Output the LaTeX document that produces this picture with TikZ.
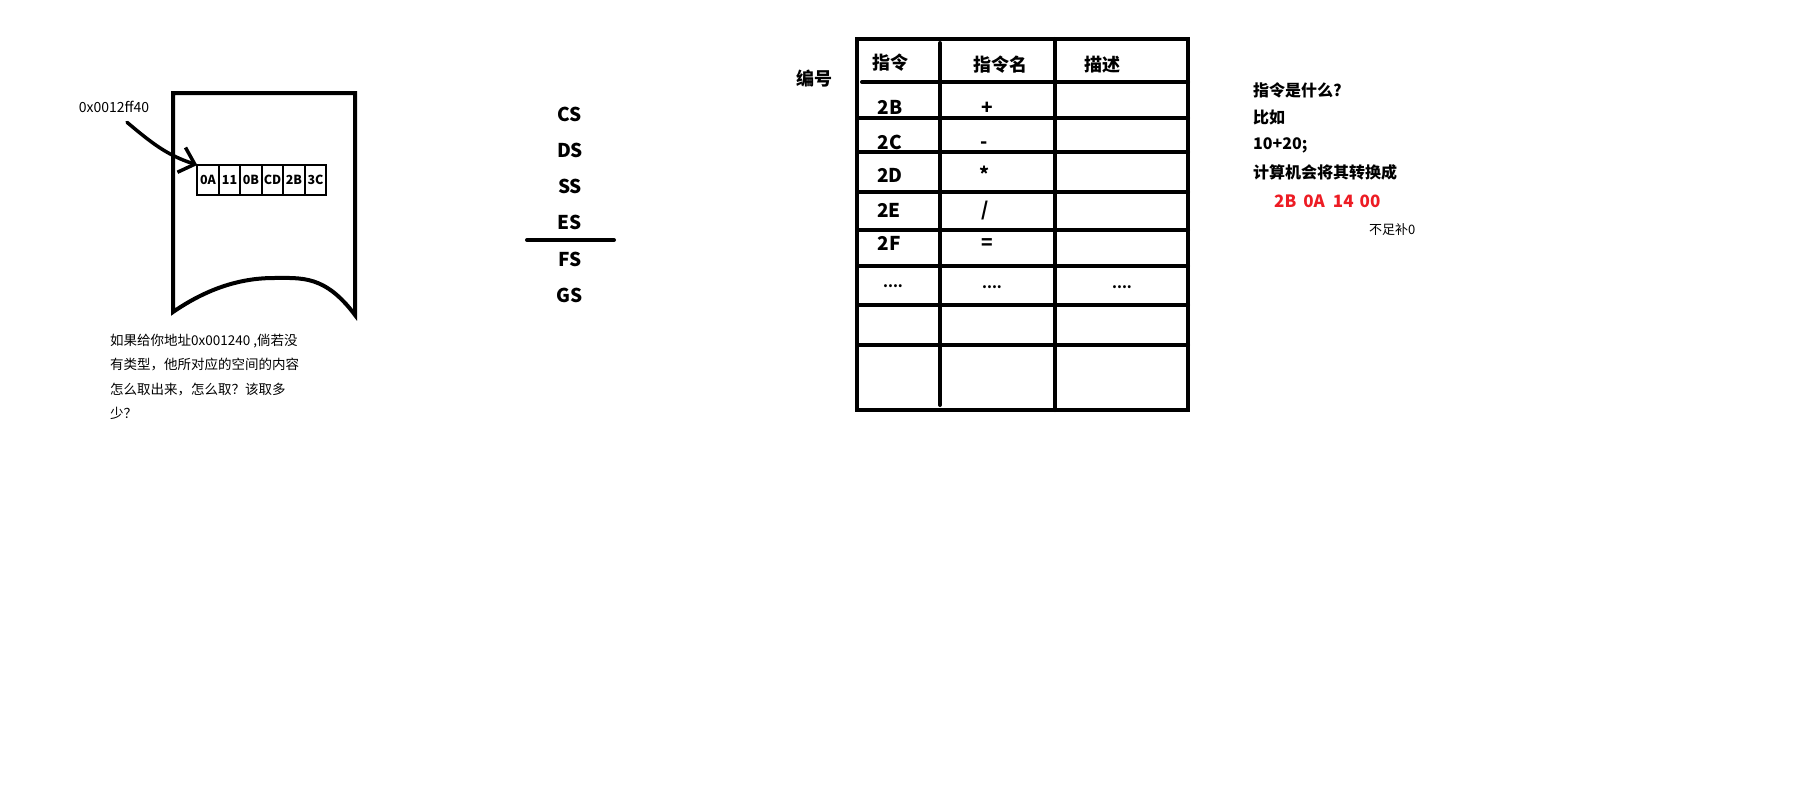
\documentclass[tikz,border=0pt]{standalone}
\usepackage{fontspec}
\setmainfont{Noto Sans CJK SC}
\usetikzlibrary{positioning,arrows.meta}
\definecolor{paintred}{RGB}{237,28,36}
\tikzset{
  thickline/.style={line width=4pt, line cap=round},
  byte/.style={draw, line width=2pt, minimum width=21.5pt, minimum height=30pt, inner sep=0pt, outer sep=0pt, font=\bfseries\fontsize{12.5}{14}\selectfont},
  seg/.style={font=\bfseries\fontsize{19}{22}\selectfont},
  cell/.style={font=\bfseries\fontsize{19}{22}\selectfont},
  dots/.style={font=\bfseries\fontsize{14}{16}\selectfont},
  head/.style={font=\bfseries\fontsize{18}{22}\selectfont},
  note/.style={anchor=west, inner sep=0pt, font=\bfseries\fontsize{16}{20}\selectfont},
}

\begin{document}
\begin{tikzpicture}[x=1pt,y=1pt]
    \useasboundingbox (0,0) rectangle (1799,-800);

    % memory block
    \draw[thickline, line join=miter] (173,-93) -- (355,-93) -- (355,-315)
        .. controls (325,-275) and (302,-278) .. (274,-278)
        .. controls (238,-278) and (205,-290) .. (173,-312) -- cycle;

    \node[byte] (b1) at (208,-180) {0A};
    \node[byte, right=0pt of b1] (b2) {11};
    \node[byte, right=0pt of b2] (b3) {0B};
    \node[byte, right=0pt of b3] (b4) {CD};
    \node[byte, right=0pt of b4] (b5) {2B};
    \node[byte, right=0pt of b5] (b6) {3C};

    \node[font=\fontsize{14}{16}\selectfont] (addr) at (114,-107) {0x0012ff40};
    \draw[line width=3.5pt, line cap=round, -{Straight Barb[length=14pt,width=26pt]}]
        ([xshift=13pt,yshift=-6pt]addr.south) to[out=-40,in=162] (b1.north west);

    \node[anchor=north west, align=left, inner sep=0pt, font=\fontsize{13.5}{24.3}\selectfont] (question) at (110,-334)
        {如果给你地址0x001240 ,倘若没\\有类型，他所对应的空间的内容\\怎么取出来，怎么取？该取多\\少？};

    % segment registers
    \node[seg] (cs) at (570,-114) {CS};
    \node[seg] (ds) at (570,-150) {DS};
    \node[seg] (ss) at (570,-186) {SS};
    \node[seg] (es) at (570,-222) {ES};
    \node[seg] (fs) at (570,-259) {FS};
    \node[seg] (gs) at (570,-295) {GS};
    \draw[thickline] (527,-240) -- (614,-240);

    % instruction table
    \draw[thickline] (857,-39) rectangle (1188,-410);
    \draw[thickline] (940,-43) -- (940,-405);
    \draw[thickline] (1055,-39) -- (1055,-410);
    \draw[thickline] (862,-82) -- (1188,-82);
    \foreach \y in {118,152,192,230,266,305,345}
        \draw[thickline] (857,-\y) -- (1188,-\y);

    \node[head] (num) at (814,-79) {编号};
    \node[head] (h1) at (890,-63) {指令};
    \node[head] (h2) at (1000,-65) {指令名};
    \node[head] (h3) at (1102,-65) {描述};

    \node[cell] (op1) at (890,-107) {2B};
    \node[cell] (op2) at (890,-142) {2C};
    \node[cell] (op3) at (890,-175) {2D};
    \node[cell] (op4) at (889,-210) {2E};
    \node[cell] (op5) at (889,-243) {2F};
    \node[dots] (op6) at (893,-286) {....};

    \node[cell] (nm1) at (987,-108) {+};
    \node[cell] (nm2) at (984,-145) {-};
    \node[cell] (nm3) at (985,-174) {*};
    \node[cell] (nm4) at (985,-211) {/};
    \node[cell] (nm5) at (987,-244) {=};
    \node[dots] (nm6) at (992,-287) {....};

    \node[dots] (ds6) at (1122,-287) {....};

    % notes on the right
    \node[note] (what) at (1253,-90) {指令是什么?};
    \node[note] (eg) at (1253,-117) {比如};
    \node[note] (expr) at (1253,-145) {10+20;};
    \node[note] (conv) at (1253,-172) {计算机会将其转换成};
    \node[note, text=paintred, font=\bfseries\fontsize{17}{20}\selectfont] (code) at (1274,-201)
        {2B\hspace{7pt}0A\hspace{8pt}14\hspace{6pt}00};
    \node[anchor=west, inner sep=0pt, font=\fontsize{13}{15}\selectfont] (pad) at (1369,-230) {不足补0};
\end{tikzpicture}
\end{document}
